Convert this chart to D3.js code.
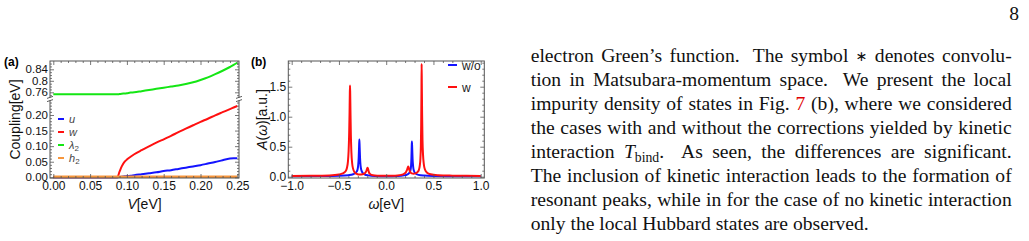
<!DOCTYPE html>
<html>
<head>
<meta charset="utf-8">
<script src="https://cdn.jsdelivr.net/npm/d3@7"></script>
<style>
  body { margin: 0; background: #fff; }
  svg { display: block; }
</style>
</head>
<body>
<svg id="page" width="1029" height="241"></svg>
<script>
// ---- panel (a): couplings vs V ----
const vGrid = [0, 0.087, 0.09, 0.093, 0.097, 0.10, 0.105, 0.11, 0.12, 0.13, 0.14, 0.15,
  0.16, 0.17, 0.18, 0.19, 0.20, 0.21, 0.22, 0.23, 0.24, 0.245, 0.25];
const uVals = [0, 0, 0.001, 0.002, 0.003, 0.004, 0.005, 0.007, 0.010, 0.013, 0.016, 0.020,
  0.023, 0.027, 0.031, 0.035, 0.039, 0.044, 0.049, 0.055, 0.060, 0.061, 0.061];
const wVals = [0, 0, 0.018, 0.035, 0.050, 0.057, 0.066, 0.074, 0.087, 0.099, 0.111, 0.122,
  0.133, 0.145, 0.156, 0.167, 0.178, 0.188, 0.199, 0.209, 0.219, 0.224, 0.229];
const lambdaVals = [0.753, 0.753, 0.754, 0.755, 0.756, 0.757, 0.759, 0.760, 0.764, 0.768, 0.772, 0.776,
  0.780, 0.784, 0.789, 0.795, 0.803, 0.812, 0.823, 0.835, 0.848, 0.855, 0.863];
const hVals = [0.002, 0.002, 0.002, 0.002, 0.002, 0.002, 0.002, 0.002, 0.002, 0.002, 0.002, 0.002,
  0.002, 0.002, 0.002, 0.002, 0.002, 0.002, 0.002, 0.002, 0.002, 0.002, 0.002];
const seriesA = ["u", "w", "λ2", "h2"];

const xTicksA = [0, 0.05, 0.10, 0.15, 0.20, 0.25];
const yTicksLow = [0, 0.05, 0.10, 0.15, 0.20];
const yTicksHigh = [0.76, 0.80, 0.84];
const yLabelsHigh = ["0.76", "0.8", "0.84"];

// ---- panel (b): spectral function ----
const omegaW = [-1.0, -0.8, -0.6, -0.5, -0.46, -0.43, -0.415, -0.405, -0.398, -0.392, -0.388, -0.385,
  -0.383, -0.381, -0.378, -0.374, -0.368, -0.36, -0.35, -0.335, -0.31, -0.28, -0.25, -0.225, -0.21,
  -0.203, -0.197, -0.191, -0.185, -0.175, -0.155, -0.12, -0.06, 0.0, 0.06, 0.12, 0.16, 0.19, 0.21,
  0.222, 0.229, 0.234, 0.239, 0.246, 0.256, 0.27, 0.29, 0.31, 0.33, 0.345, 0.355, 0.362, 0.367,
  0.37, 0.373, 0.375, 0.377, 0.38, 0.384, 0.39, 0.398, 0.41, 0.43, 0.47, 0.55, 0.7, 0.85, 1.0];
const aW = [0.013, 0.015, 0.022, 0.037, 0.055, 0.09, 0.15, 0.25, 0.42, 0.72, 1.05, 1.38,
  1.52, 1.40, 1.08, 0.70, 0.40, 0.22, 0.13, 0.075, 0.045, 0.035, 0.04, 0.06, 0.095,
  0.13, 0.15, 0.125, 0.085, 0.05, 0.03, 0.02, 0.016, 0.015, 0.016, 0.02, 0.03, 0.048, 0.08,
  0.12, 0.155, 0.17, 0.15, 0.11, 0.075, 0.055, 0.05, 0.055, 0.075, 0.11, 0.18, 0.30, 0.52,
  0.85, 1.40, 1.88, 1.55, 1.05, 0.62, 0.36, 0.21, 0.12, 0.07, 0.04, 0.025, 0.017, 0.014, 0.013];
const omegaWo = [-1.0, -0.7, -0.5, -0.4, -0.35, -0.32, -0.305, -0.297, -0.291, -0.287, -0.284, -0.281,
  -0.277, -0.271, -0.263, -0.25, -0.23, -0.19, -0.12, 0.0, 0.12, 0.19, 0.225, 0.245, 0.257, 0.263,
  0.267, 0.27, 0.272, 0.275, 0.279, 0.285, 0.293, 0.31, 0.34, 0.4, 0.5, 0.7, 1.0];
const aWo = [0.008, 0.01, 0.015, 0.025, 0.04, 0.07, 0.11, 0.18, 0.32, 0.5, 0.62, 0.5,
  0.32, 0.18, 0.11, 0.065, 0.04, 0.022, 0.012, 0.009, 0.012, 0.022, 0.04, 0.065, 0.11, 0.18,
  0.32, 0.5, 0.585, 0.48, 0.3, 0.17, 0.1, 0.055, 0.03, 0.018, 0.012, 0.009, 0.008];
const seriesB = ["w/o", "w"];

const xTicksB = [-1, -0.5, 0, 0.5, 1];
const yTicksB = [0, 0.5, 1, 1.5];

const textLines = [
  "electron Green’s function.  The symbol ∗ denotes convolu-",
  "tion in Matsubara-momentum space.  We present the local",
  "impurity density of states in Fig. 7 (b), where we considered",
  "the cases with and without the corrections yielded by kinetic",
  "interaction T_bind.  As seen, the differences are significant.",
  "The inclusion of kinetic interaction leads to the formation of",
  "resonant peaks, while in for the case of no kinetic interaction",
  "only the local Hubbard states are observed."
];

const sans = "'Liberation Sans', Arial, sans-serif";
const serif = "'Liberation Serif', 'Times New Roman', serif";
const colA = {u: "#1414ff", w: "#ff1010", "λ2": "#14e614", h2: "#f7963c"};
const colB = {"w/o": "#1414ff", w: "#ff1010"};
const frameCol = "#555";

const svg = d3.select("#page");
const defs = svg.append("defs");

function clip(id, x0, y0, x1, y1) {
  defs.append("clipPath").attr("id", id)
    .append("rect").attr("x", x0).attr("y", y0).attr("width", x1 - x0).attr("height", y1 - y0);
}

// draw one set of frame ticks with a d3 axis
function tickSet(g, axisFn, scale, values, size, fmt, tx, ty, pad, fsz) {
  const a = axisFn(scale).tickValues(values).tickSize(-size).tickSizeOuter(0)
    .tickPadding(pad || 3).tickFormat(fmt || (() => ""));
  const s = g.append("g").attr("transform", `translate(${tx},${ty})`).call(a);
  s.select(".domain").remove();
  s.selectAll("line").attr("stroke", frameCol).attr("stroke-width", 0.8);
  s.selectAll("text").attr("font-family", sans).attr("font-size", fsz || 12).attr("fill", "#111");
  return s;
}

function range(a, b, step) {
  const out = [];
  for (let v = a; v <= b + 1e-9; v += step) out.push(+v.toFixed(4));
  return out;
}

const minus = s => s.replace("-", "\u2212");

// ================= panel (a) =================
const A = {l: 50, r: 239, t: 61, b: 178, brk: 99};
const xA = d3.scaleLinear().domain([0, 0.25]).range([53.3, 237.3]);
const yLow = d3.scaleLinear().domain([0, 0.2]).range([177.3, 115]);
const yHigh = d3.scaleLinear().domain([0.76, 0.84]).range([92.3, 69.3]);

clip("clipLow", A.l, A.brk, A.r, A.b + 1);
clip("clipHigh", A.l, A.t, A.r, A.brk);

const gA = svg.append("g");
const valsA = {u: uVals, w: wVals, "λ2": lambdaVals, h2: hVals};
seriesA.forEach(k => {
  const high = k === "λ2";
  const y = high ? yHigh : yLow;
  const line = d3.line().x((d, i) => xA(vGrid[i])).y(d => y(d)).curve(d3.curveMonotoneX);
  gA.append("path").datum(valsA[k])
    .attr("clip-path", high ? "url(#clipHigh)" : "url(#clipLow)")
    .attr("d", line).attr("fill", "none")
    .attr("stroke", colA[k]).attr("stroke-width", k === "h2" ? 2.6 : 2)
    .attr("stroke-linejoin", "round");
});

// frame + ticks
gA.append("rect").attr("x", A.l).attr("y", A.t).attr("width", A.r - A.l).attr("height", A.b - A.t)
  .attr("fill", "none").attr("stroke", frameCol).attr("stroke-width", 1);

const xMinorA = range(0, 0.25, 0.01).filter(v => !xTicksA.some(t => Math.abs(t - v) < 1e-6));
tickSet(gA, d3.axisBottom, xA, xTicksA, 4, d3.format(".2f"), 0, A.b, 3);
tickSet(gA, d3.axisBottom, xA, xMinorA, 2, null, 0, A.b);
tickSet(gA, d3.axisTop, xA, xTicksA, 4, null, 0, A.t);
tickSet(gA, d3.axisTop, xA, xMinorA, 2, null, 0, A.t);

const yMinorLow = range(0.01, 0.25, 0.01).filter(v => !yTicksLow.some(t => Math.abs(t - v) < 1e-6) && yLow(v) > A.brk + 2);
const yMinorHigh = range(0.74, 0.86, 0.01).filter(v => !yTicksHigh.some(t => Math.abs(t - v) < 1e-6) && yHigh(v) < A.brk - 2 && yHigh(v) > A.t + 1);
tickSet(gA, d3.axisLeft, yLow, yTicksLow, 4, d3.format(".2f"), A.l, 0, 2, 11.5);
tickSet(gA, d3.axisLeft, yLow, yMinorLow, 2, null, A.l, 0);
tickSet(gA, d3.axisLeft, yHigh, yTicksHigh, 4, (d, i) => yLabelsHigh[i], A.l, 0, 2, 11.5);
tickSet(gA, d3.axisLeft, yHigh, yMinorHigh, 2, null, A.l, 0);
tickSet(gA, d3.axisRight, yLow, yTicksLow, 4, null, A.r, 0);
tickSet(gA, d3.axisRight, yLow, yMinorLow, 2, null, A.r, 0);
tickSet(gA, d3.axisRight, yHigh, yTicksHigh, 4, null, A.r, 0);
tickSet(gA, d3.axisRight, yHigh, yMinorHigh, 2, null, A.r, 0);

// axis break marks
[A.l, A.r].forEach(x => {
  gA.append("rect").attr("x", x - 3).attr("y", A.brk - 1.5).attr("width", 6).attr("height", 3).attr("fill", "#fff");
  [-1.6, 1.6].forEach(o => gA.append("line")
    .attr("x1", x - 3).attr("y1", A.brk + o + 1).attr("x2", x + 3).attr("y2", A.brk + o - 1)
    .attr("stroke", "#333").attr("stroke-width", 0.8));
});

// legend (a)
const legA = gA.append("g");
seriesA.forEach((k, i) => {
  const y = 119 + i * 13;
  legA.append("line").attr("x1", 58).attr("x2", 64).attr("y1", y).attr("y2", y)
    .attr("stroke", colA[k]).attr("stroke-width", 2);
  const t = legA.append("text").attr("x", 69).attr("y", y + 4)
    .attr("font-family", sans).attr("font-size", 11).attr("fill", "#444").attr("font-style", "italic");
  if (k.length > 1) {
    t.append("tspan").text(k[0]);
    t.append("tspan").attr("font-size", 8).attr("dy", 2).attr("font-style", "normal").text(k[1]);
  } else t.text(k);
});

// labels (a)
svg.append("text").attr("x", 4).attr("y", 66).attr("font-family", sans).attr("font-weight", "bold")
  .attr("font-size", 12).text("(a)");
svg.append("text").attr("transform", `translate(20,${(A.t + A.b) / 2}) rotate(-90)`)
  .attr("text-anchor", "middle").attr("font-family", sans).attr("font-size", 14).attr("fill", "#111")
  .text("Coupling[eV]");
const xlA = svg.append("text").attr("x", (A.l + A.r) / 2).attr("y", 209).attr("text-anchor", "middle")
  .attr("font-family", sans).attr("font-size", 14).attr("fill", "#111");
xlA.append("tspan").attr("font-style", "italic").text("V");
xlA.append("tspan").text("[eV]");

// ================= panel (b) =================
const B = {l: 288.3, r: 484.3, t: 61, b: 178};
const xB = d3.scaleLinear().domain([-1, 1]).range([291.7, 480.7]);
const yB = d3.scaleLinear().domain([0, 1.5]).range([176.7, 86.7]);
clip("clipB", B.l, B.t, B.r, B.b);

const gB = svg.append("g");
const dataB = {"w/o": [omegaWo, aWo], w: [omegaW, aW]};
seriesB.forEach(k => {
  const [xs, ys] = dataB[k];
  const line = d3.line().x((d, i) => xB(xs[i])).y(d => yB(d)).curve(d3.curveMonotoneX);
  gB.append("path").datum(ys).attr("clip-path", "url(#clipB)")
    .attr("d", line).attr("fill", "none").attr("stroke", colB[k]).attr("stroke-width", 2)
    .attr("stroke-linejoin", "round");
});

gB.append("rect").attr("x", B.l).attr("y", B.t).attr("width", B.r - B.l).attr("height", B.b - B.t)
  .attr("fill", "none").attr("stroke", frameCol).attr("stroke-width", 1);

const xMinorB = range(-1, 1, 0.1).filter(v => !xTicksB.some(t => Math.abs(t - v) < 1e-6));
const yMinorB = range(0.1, 1.9, 0.1).filter(v => !yTicksB.some(t => Math.abs(t - v) < 1e-6));
tickSet(gB, d3.axisBottom, xB, xTicksB, 4, d => minus(d3.format(".1f")(d)), 0, B.b, 3);
tickSet(gB, d3.axisBottom, xB, xMinorB, 2, null, 0, B.b);
tickSet(gB, d3.axisTop, xB, xTicksB, 4, null, 0, B.t);
tickSet(gB, d3.axisTop, xB, xMinorB, 2, null, 0, B.t);
tickSet(gB, d3.axisLeft, yB, yTicksB, 4, d3.format(".1f"), B.l, 0, 2);
tickSet(gB, d3.axisLeft, yB, yMinorB, 2, null, B.l, 0);
tickSet(gB, d3.axisRight, yB, yTicksB, 4, null, B.r, 0);
tickSet(gB, d3.axisRight, yB, yMinorB, 2, null, B.r, 0);

// legend (b)
seriesB.forEach((k, i) => {
  const y = 65 + i * 22;
  gB.append("line").attr("x1", 448).attr("x2", 457).attr("y1", y).attr("y2", y)
    .attr("stroke", colB[k]).attr("stroke-width", 2);
  gB.append("text").attr("x", 462).attr("y", y + 4.5).attr("font-family", sans)
    .attr("font-size", 12).attr("fill", "#222").text(k);
});

svg.append("text").attr("x", 251).attr("y", 66).attr("font-family", sans).attr("font-weight", "bold")
  .attr("font-size", 12).text("(b)");
const ylB = svg.append("text").attr("transform", `translate(267,${(B.t + B.b) / 2}) rotate(-90)`)
  .attr("text-anchor", "middle").attr("font-family", sans).attr("font-size", 14).attr("fill", "#111");
ylB.append("tspan").attr("font-style", "italic").text("A");
ylB.append("tspan").text("(");
ylB.append("tspan").attr("font-style", "italic").text("ω");
ylB.append("tspan").text(")[a.u.]");
const xlB = svg.append("text").attr("x", (B.l + B.r) / 2).attr("y", 209).attr("text-anchor", "middle")
  .attr("font-family", sans).attr("font-size", 14).attr("fill", "#111");
xlB.append("tspan").attr("font-style", "italic").text("ω");
xlB.append("tspan").text("[eV]");

// ================= text column =================
const fs = 19.6;
const left = 530.7, right = 1011.7, base0 = 62, lead = 24;
const gT = svg.append("g").attr("font-family", serif).attr("font-size", fs).attr("fill", "#111");

function wordNode(w, y) {
  const t = gT.append("text").attr("y", y);
  if (w === "7") t.attr("fill", "#e00000").text(w);
  else if (w === "∗") t.attr("font-family", "'DejaVu Sans', sans-serif").attr("font-size", fs * 0.72).attr("dy", -1).text(w);
  else if (w.startsWith("T_bind")) {
    t.append("tspan").attr("font-style", "italic").text("T");
    t.append("tspan").attr("font-size", fs * 0.7).attr("dy", 4).text("bind");
    t.append("tspan").attr("dy", -4).text(w.slice(6));
  } else t.text(w);
  return t;
}

textLines.forEach((ln, li) => {
  const y = base0 + li * lead;
  const parts = ln.split(/( +)/);
  const words = [], gaps = [];
  parts.forEach((p, i) => {
    if (i % 2 === 0) words.push(p);
    else gaps.push(p.length > 1 ? 1.8 : 1);
  });
  const nodes = words.map(w => wordNode(w, y));
  const widths = nodes.map(n => n.node().getComputedTextLength());
  const total = d3.sum(widths);
  const last = li === textLines.length - 1;
  const unit = last ? fs * 0.25 : (right - left - total) / d3.sum(gaps);
  let x = left;
  nodes.forEach((n, i) => {
    n.attr("x", x);
    x += widths[i] + (i < gaps.length ? gaps[i] * unit : 0);
  });
});

svg.append("text").attr("x", 1019).attr("y", 19.5).attr("text-anchor", "end")
  .attr("font-family", serif).attr("font-size", fs).attr("fill", "#111").text("8");
</script>
</body>
</html>
